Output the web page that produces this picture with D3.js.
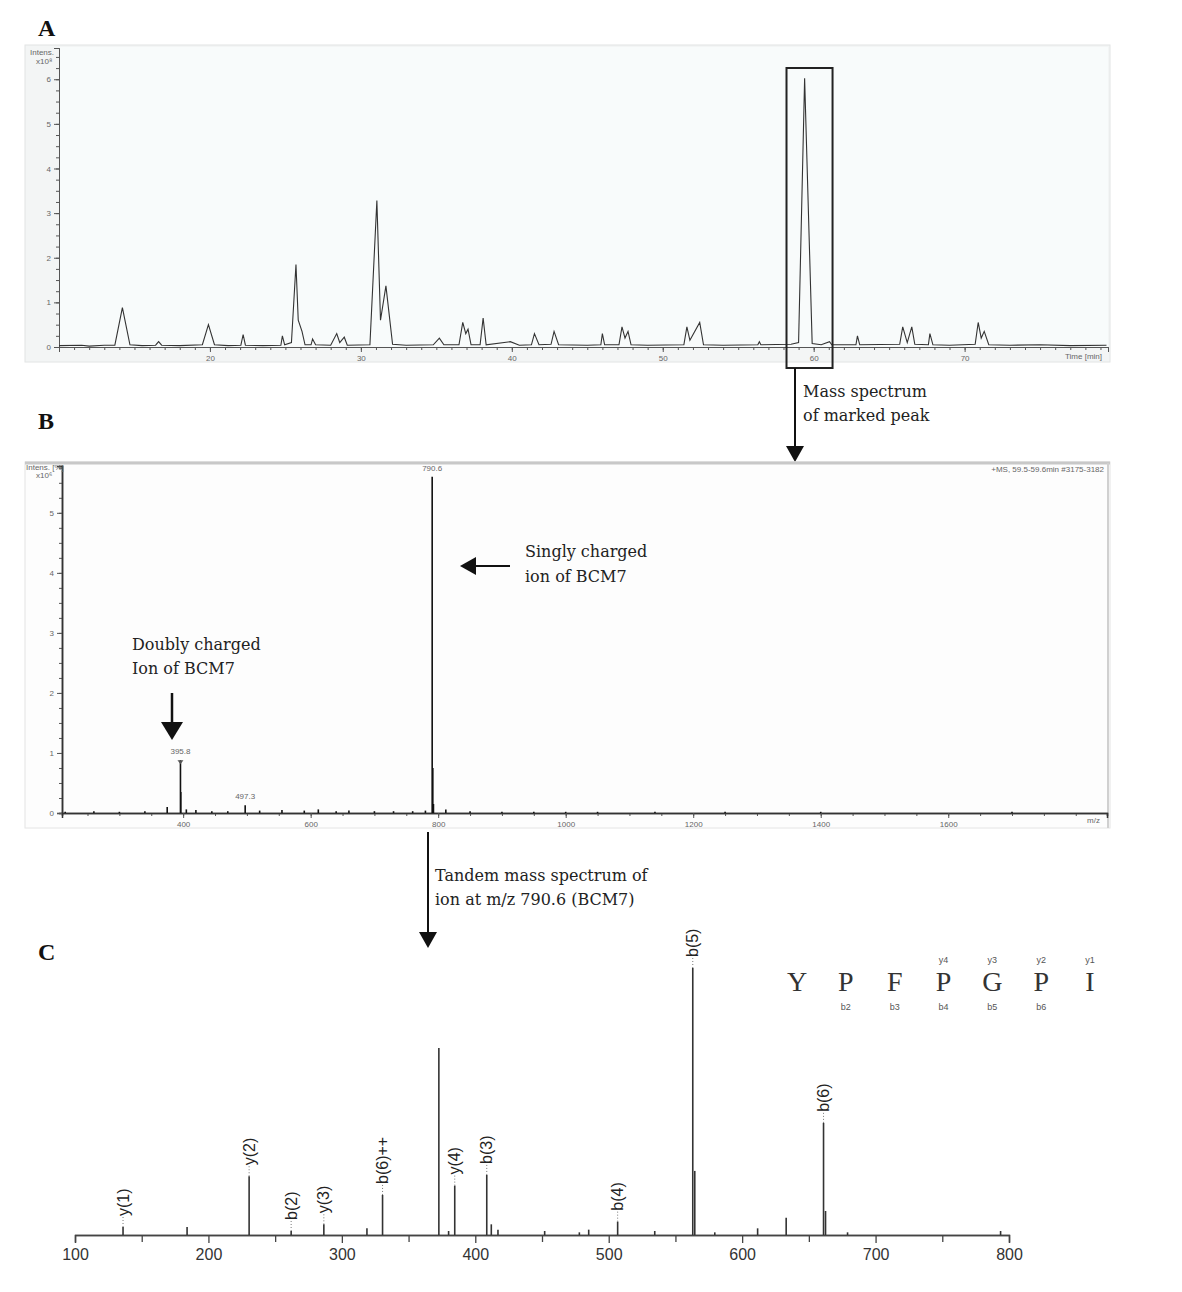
<!DOCTYPE html>
<html>
<head>
<meta charset="utf-8">
<script src="https://cdn.jsdelivr.net/npm/d3@7"></script>
<style>
body { margin: 0; background: #fff; }
svg text { font-family: 'Liberation Sans', Arial, sans-serif; }
.note { font-family: 'DejaVu Serif', serif; font-size: 16px; fill: #222; }
.panel { font-family: 'Liberation Serif', serif; font-size: 24px; font-weight: bold; fill: #111; }
.small { font-size: 8px; fill: #666; }
</style>
</head>
<body>
<div id="chart"></div>
<script>
// ---- panel A: base peak chromatogram, [time (min), intensity x10^8]
const ticTrace = [
    [10, 0.03], [11.5, 0.04], [12, 0.02], [13, 0.04], [13.7, 0.04], [14.2, 0.88], [14.7, 0.05],
    [15.5, 0.03], [16.4, 0.04], [16.6, 0.12], [16.8, 0.04], [18, 0.03], [19.5, 0.05], [19.9, 0.5],
    [20.3, 0.05], [21.2, 0.03], [22.05, 0.04], [22.2, 0.28], [22.35, 0.04], [23.5, 0.03],
    [24.7, 0.04], [24.8, 0.25], [24.95, 0.05], [25.4, 0.1], [25.7, 1.85], [25.85, 0.6], [26.1, 0.35],
    [26.3, 0.05], [26.7, 0.05], [26.8, 0.18], [27, 0.05], [28, 0.04], [28.4, 0.3], [28.6, 0.1],
    [28.9, 0.22], [29.1, 0.04], [30.6, 0.05], [31.06, 3.28], [31.3, 0.6], [31.66, 1.37], [32.1, 0.06],
    [33, 0.04], [34.8, 0.05], [35.2, 0.2], [35.5, 0.05], [36.5, 0.05], [36.75, 0.55], [36.95, 0.3],
    [37.1, 0.4], [37.3, 0.05], [37.9, 0.05], [38.1, 0.65], [38.3, 0.05], [39.9, 0.12], [40.5, 0.04],
    [41.3, 0.05], [41.5, 0.3], [41.8, 0.05], [42.6, 0.06], [42.8, 0.35], [43.1, 0.05], [45, 0.04],
    [45.9, 0.05], [46, 0.3], [46.15, 0.05], [47.1, 0.05], [47.3, 0.45], [47.5, 0.2], [47.7, 0.35],
    [47.9, 0.05], [49, 0.04], [51.4, 0.05], [51.6, 0.45], [51.8, 0.15], [52.45, 0.55], [52.7, 0.05],
    [54, 0.04], [56.3, 0.05], [56.4, 0.12], [56.5, 0.05], [58.5, 0.06], [59.0, 0.1], [59.4, 6.02],
    [59.9, 0.08], [60.5, 0.05], [61.05, 0.12], [61.2, 0.05], [62.8, 0.05], [62.9, 0.25], [63.05, 0.05],
    [65.7, 0.06], [65.9, 0.45], [66.2, 0.1], [66.5, 0.45], [66.7, 0.06], [67.6, 0.05], [67.7, 0.3],
    [67.9, 0.05], [69, 0.04], [70.7, 0.06], [70.9, 0.55], [71.1, 0.2], [71.3, 0.35], [71.6, 0.05],
    [73, 0.04], [75, 0.05], [77, 0.03], [79.4, 0.04]
];
const ticYTicks = [0, 1, 2, 3, 4, 5, 6];
const ticXTicks = [20, 30, 40, 50, 60, 70];
const markedWindow = [58.2, 61.25];

// ---- panel B: mass spectrum of marked peak, m/z and intensity x10^6
const msMz = [215, 260, 300, 340, 375, 395.8, 396.3, 405, 420, 445, 470, 497.3, 520, 555, 590, 612, 640,
    660, 700, 730, 760, 780, 790.6, 791.6, 792.6, 812, 850, 900, 950, 1000, 1050, 1140, 1250, 1400, 1700];
const msIntensity = [0.02, 0.03, 0.02, 0.03, 0.1, 0.88, 0.35, 0.06, 0.05, 0.03, 0.03, 0.13, 0.04, 0.05, 0.04, 0.06, 0.03,
    0.04, 0.03, 0.03, 0.03, 0.04, 5.6, 0.75, 0.15, 0.06, 0.03, 0.02, 0.02, 0.02, 0.02, 0.02, 0.02, 0.02, 0.02];
const msLabels = ['395.8', '497.3', '790.6'];
const msYTicks = [0, 1, 2, 3, 4, 5];
const msXTicks = [400, 600, 800, 1000, 1200, 1400, 1600];

// ---- panel C: MS/MS of m/z 790.6, relative intensity
const msmsMz = [136, 184, 230.5, 262, 286.5, 318.8, 330.5, 372.7, 380, 384.6, 408.6, 412, 417, 452, 478, 485,
    506.7, 534.5, 563, 564.5, 579.5, 611.6, 633, 661, 662.5, 679, 793.7];
const msmsIntensity = [3, 3, 22, 1.5, 4, 2.5, 15, 70, 1.5, 18.5, 22.5, 4, 2, 1.5, 1, 2,
    5, 1.5, 100, 24, 1, 2.5, 6.5, 42, 9, 1, 1.5];
const fragmentNames = ['y(1)', 'y(2)', 'b(2)', 'y(3)', 'b(6)++', 'y(4)', 'b(3)', 'b(4)', 'b(5)', 'b(6)'];
const fragmentMz = [136, 230.5, 262, 286.5, 330.5, 384.6, 408.6, 506.7, 563, 661];
const msmsXTicks = [100, 200, 300, 400, 500, 600, 700, 800];
const residues = ['Y', 'P', 'F', 'P', 'G', 'P', 'I'];
const yIonTags = ['', '', '', 'y4', 'y3', 'y2', 'y1'];
const bIonTags = ['', 'b2', 'b3', 'b4', 'b5', 'b6', ''];

const svg = d3.select('#chart')
    .append('svg')
    .attr('width', 1182)
    .attr('height', 1292);

const fmt = d3.format('d');

function arrowDown(x, y1, y2) {
    svg.append('line').attr('x1', x).attr('x2', x).attr('y1', y1).attr('y2', y2 - 14)
        .attr('stroke', '#111').attr('stroke-width', 2);
    svg.append('path').attr('d', `M${x - 9},${y2 - 16}L${x + 9},${y2 - 16}L${x},${y2}Z`).attr('fill', '#111');
}

// ================= A
svg.append('text').attr('class', 'panel').attr('x', 38).attr('y', 36).text('A');
svg.append('rect').attr('x', 25).attr('y', 45).attr('width', 1085).attr('height', 317)
    .attr('fill', '#f3f5f5').attr('stroke', '#e2e4e4');
svg.append('rect').attr('x', 59).attr('y', 47).attr('width', 1049).attr('height', 300)
    .attr('fill', '#f8fbfb');

const xA = d3.scaleLinear().domain([10, 79.5]).range([59, 1108]);
const yA = d3.scaleLinear().domain([0, 6.7]).range([347, 48]);

const gA = svg.append('g');
gA.append('g').attr('transform', 'translate(0,347)')
    .call(d3.axisBottom(xA).tickValues(d3.range(11, 80, 1)).tickSize(3).tickFormat(''));
gA.append('g').attr('transform', 'translate(0,347)')
    .call(d3.axisBottom(xA).tickValues(ticXTicks).tickSize(5).tickFormat(fmt));
gA.append('g').attr('transform', 'translate(59,0)')
    .call(d3.axisLeft(yA).tickValues(d3.range(0, 6.6, 0.25)).tickSize(3).tickFormat(''));
gA.append('g').attr('transform', 'translate(59,0)')
    .call(d3.axisLeft(yA).tickValues(ticYTicks).tickSize(5).tickFormat(fmt));
gA.selectAll('.domain').attr('stroke', '#555');
gA.selectAll('.tick line').attr('stroke', '#555');
gA.selectAll('.tick text').attr('font-size', 8).attr('fill', '#666');
gA.append('text').attr('class', 'small').attr('x', 30).attr('y', 55).text('Intens.');
gA.append('text').attr('class', 'small').attr('x', 36).attr('y', 64).text('x10⁸');
gA.append('text').attr('class', 'small').attr('x', 1065).attr('y', 359).text('Time [min]');

gA.append('path')
    .datum(ticTrace)
    .attr('d', d3.line().x(d => xA(d[0])).y(d => yA(d[1])))
    .attr('fill', 'none')
    .attr('stroke', '#333')
    .attr('stroke-width', 1.1);

// marked peak
gA.append('rect')
    .attr('x', xA(markedWindow[0])).attr('y', 68)
    .attr('width', xA(markedWindow[1]) - xA(markedWindow[0])).attr('height', 300)
    .attr('fill', 'none').attr('stroke', '#222').attr('stroke-width', 2);

arrowDown(795, 368, 462);
svg.append('text').attr('class', 'note').attr('x', 803).attr('y', 397).text('Mass spectrum');
svg.append('text').attr('class', 'note').attr('x', 803).attr('y', 421).text('of marked peak');

// ================= B
svg.append('text').attr('class', 'panel').attr('x', 38).attr('y', 429).text('B');
svg.append('rect').attr('x', 25).attr('y', 462).attr('width', 1085).attr('height', 366)
    .attr('fill', '#fdfdfd').attr('stroke', '#e4e4e4');
svg.append('line').attr('x1', 25).attr('x2', 1110).attr('y1', 463).attr('y2', 463)
    .attr('stroke', '#c8c8c8').attr('stroke-width', 3);
svg.append('line').attr('x1', 1108).attr('x2', 1108).attr('y1', 463).attr('y2', 828)
    .attr('stroke', '#d0d0d0').attr('stroke-width', 2);

const xB = d3.scaleLinear().domain([210, 1849]).range([62, 1107]);
const yB = d3.scaleLinear().domain([0, 5.78]).range([813, 466]);

const gB = svg.append('g');
gB.append('g').attr('transform', 'translate(0,813)')
    .call(d3.axisBottom(xB).tickValues(d3.range(250, 1850, 50)).tickSize(3).tickFormat(''));
gB.append('g').attr('transform', 'translate(0,813)')
    .call(d3.axisBottom(xB).tickValues(msXTicks).tickSize(5).tickFormat(fmt));
gB.append('g').attr('transform', 'translate(62,0)')
    .call(d3.axisLeft(yB).tickValues(d3.range(0, 5.8, 0.25)).tickSize(3).tickFormat(''));
gB.append('g').attr('transform', 'translate(62,0)')
    .call(d3.axisLeft(yB).tickValues(msYTicks).tickSize(5).tickFormat(fmt));
gB.selectAll('.domain').attr('stroke', '#333').attr('stroke-width', 1.5);
gB.selectAll('.tick line').attr('stroke', '#555');
gB.selectAll('.tick text').attr('font-size', 8).attr('fill', '#666');
gB.append('text').attr('class', 'small').attr('x', 26).attr('y', 470).text('Intens. [%]');
gB.append('text').attr('class', 'small').attr('x', 36).attr('y', 478).text('x10⁶');
gB.append('text').attr('class', 'small').attr('x', 1100).attr('y', 823).attr('text-anchor', 'end').text('m/z');
gB.append('text').attr('class', 'small').attr('x', 1104).attr('y', 472).attr('text-anchor', 'end')
    .text('+MS, 59.5-59.6min #3175-3182');

gB.selectAll('line.stick')
    .data(msMz)
    .enter()
    .append('line')
    .attr('class', 'stick')
    .attr('x1', d => xB(d)).attr('x2', d => xB(d))
    .attr('y1', yB(0))
    .attr('y2', (d, i) => yB(msIntensity[i]))
    .attr('stroke', '#111')
    .attr('stroke-width', 1.6);

gB.selectAll('text.peak')
    .data(msLabels)
    .enter()
    .append('text')
    .attr('class', 'small peak')
    .attr('text-anchor', 'middle')
    .attr('x', d => xB(+d))
    .attr('y', d => yB(msIntensity[msMz.indexOf(+d)]) - 6)
    .text(d => d);
gB.append('path')
    .attr('d', `M${xB(395.8) - 3},${yB(0.88)}L${xB(395.8) + 3},${yB(0.88)}L${xB(395.8)},${yB(0.88) + 4}Z`)
    .attr('fill', '#555');

svg.append('text').attr('class', 'note').attr('x', 525).attr('y', 557).text('Singly charged');
svg.append('text').attr('class', 'note').attr('x', 525).attr('y', 582).text('ion of BCM7');
svg.append('line').attr('x1', 510).attr('x2', 474).attr('y1', 566).attr('y2', 566)
    .attr('stroke', '#111').attr('stroke-width', 2);
svg.append('path').attr('d', 'M476,557L476,575L460,566Z').attr('fill', '#111');

svg.append('text').attr('class', 'note').attr('x', 132).attr('y', 650).text('Doubly charged');
svg.append('text').attr('class', 'note').attr('x', 132).attr('y', 674).text('Ion of BCM7');
svg.append('line').attr('x1', 172).attr('x2', 172).attr('y1', 693).attr('y2', 724)
    .attr('stroke', '#111').attr('stroke-width', 2.5);
svg.append('path').attr('d', 'M161,722L183,722L172,740Z').attr('fill', '#111');

arrowDown(428, 832, 948);
svg.append('text').attr('class', 'note').attr('x', 435).attr('y', 881).text('Tandem mass spectrum of');
svg.append('text').attr('class', 'note').attr('x', 435).attr('y', 905).text('ion at m/z 790.6 (BCM7)');

// ================= C
svg.append('text').attr('class', 'panel').attr('x', 38).attr('y', 960).text('C');

const xC = d3.scaleLinear().domain([100, 800]).range([75, 1009]);
const yC = d3.scaleLinear().domain([0, 100]).range([1235, 968]);

const gC = svg.append('g');
gC.append('g').attr('transform', 'translate(0,1235)')
    .call(d3.axisBottom(xC).tickValues(d3.range(150, 800, 100)).tickSize(7).tickFormat(''));
gC.append('g').attr('transform', 'translate(0,1235)')
    .call(d3.axisBottom(xC).tickValues(msmsXTicks).tickSize(8).tickPadding(6));
gC.selectAll('.domain').attr('stroke', '#444').attr('stroke-width', 1.3);
gC.selectAll('.tick line').attr('stroke', '#444').attr('stroke-width', 1.3);
gC.selectAll('.tick text').attr('font-size', 16).attr('fill', '#333');

gC.selectAll('line.stick')
    .data(msmsMz)
    .enter()
    .append('line')
    .attr('class', 'stick')
    .attr('x1', d => xC(d)).attr('x2', d => xC(d))
    .attr('y1', yC(0))
    .attr('y2', (d, i) => yC(msmsIntensity[i]))
    .attr('stroke', '#333')
    .attr('stroke-width', 1.6);

const frag = gC.selectAll('g.frag')
    .data(fragmentNames)
    .enter()
    .append('g')
    .attr('class', 'frag');
frag.append('line')
    .attr('x1', (d, i) => xC(fragmentMz[i])).attr('x2', (d, i) => xC(fragmentMz[i]))
    .attr('y1', (d, i) => yC(msmsIntensity[msmsMz.indexOf(fragmentMz[i])]))
    .attr('y2', (d, i) => yC(msmsIntensity[msmsMz.indexOf(fragmentMz[i])]) - 10)
    .attr('stroke', '#777').attr('stroke-dasharray', '1,2');
frag.append('text')
    .attr('transform', (d, i) => `translate(${xC(fragmentMz[i])},${yC(msmsIntensity[msmsMz.indexOf(fragmentMz[i])]) - 11}) rotate(-90)`)
    .attr('dy', '0.35em')
    .attr('font-size', 16)
    .attr('fill', '#222')
    .text(d => d);

// peptide sequence
const xSeq = d3.scalePoint().domain(d3.range(residues.length)).range([797, 1090]);
const seq = gC.selectAll('g.res')
    .data(residues)
    .enter()
    .append('g')
    .attr('class', 'res')
    .attr('transform', (d, i) => `translate(${xSeq(i)},0)`);
seq.append('text').attr('y', 991).attr('text-anchor', 'middle')
    .attr('font-size', 28).attr('fill', '#333')
    .style('font-family', 'Liberation Serif, serif')
    .text(d => d);
seq.append('text').attr('y', 963).attr('text-anchor', 'middle').attr('font-size', 9).attr('fill', '#555')
    .text((d, i) => yIonTags[i]);
seq.append('text').attr('y', 1010).attr('text-anchor', 'middle').attr('font-size', 9).attr('fill', '#555')
    .text((d, i) => bIonTags[i]);
</script>
</body>
</html>
